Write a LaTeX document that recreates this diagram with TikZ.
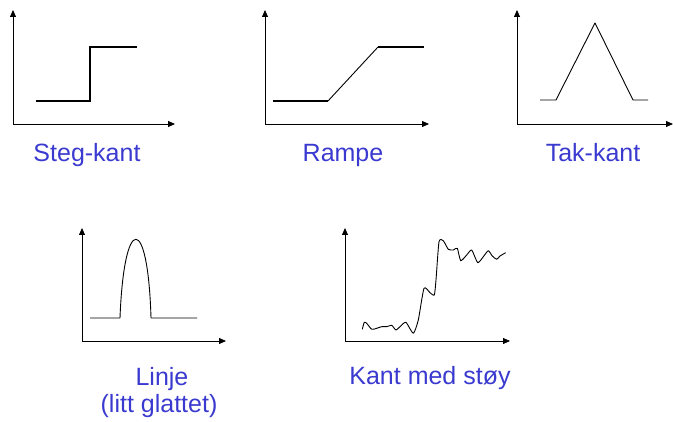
\documentclass[tikz,border=0pt]{standalone}
\usepackage{fontspec}
\setmainfont{Liberation Sans}
\usetikzlibrary{arrows.meta}
\definecolor{lblblue}{RGB}{58,58,208}

\begin{document}
\begin{tikzpicture}[x=1pt, y=-1pt,
  axis/.style={line width=0.8pt, -{Triangle[length=7pt,width=6pt]}},
  thickedge/.style={line width=2pt},
  thinedge/.style={line width=0.9pt, line join=round},
  lbl/.style={anchor=base, text=lblblue, inner sep=0pt, font=\fontsize{25}{30}\selectfont}]
  \useasboundingbox (0,0) rectangle (673,422);
  % Axes: origin x/y, top, right end
  \foreach \ox/\oy/\ty/\rx in {13/124/10/175, 265/124/10/429, 517/124/10/673,
                               82/341/228/226, 345/341/228/510}
  {
    \draw[axis] (\ox,\oy) -- (\ox,\ty);
    \draw[axis] (\ox,\oy) -- (\rx,\oy);
  }
  % Steg-kant
  \draw[thickedge] (36,101) -- (90,101) -- (90,47) -- (137,47);
  \node[lbl] (steg) at (87,162) {Steg-kant};
  % Rampe
  \draw[thickedge] (273,101) -- (328,101);
  \draw[thinedge] (328,101) -- (378,47);
  \draw[thickedge] (378,47) -- (424,47);
  \node[lbl] (rampe) at (343,162) {Rampe};
  % Tak-kant
  \draw[thinedge] (540,100) -- (556,100) -- (595,23) -- (633,100) -- (648,100);
  \node[lbl] (tak) at (593,162) {Tak-kant};
  % Linje
  \draw[thinedge] (90,318) -- (120,318) .. controls (124,213) and (148,213) .. (151,318) -- (197,318);
  \node[lbl] (linje) at (162,386) {Linje};
  \node[lbl] (glatt) at (159,413) {(litt glattet)};
  % Kant med stoy
  \draw[thinedge] plot[smooth, tension=0.35] coordinates {
    (362.3,329.3) (364.3,322.3) (366.7,323.3) (371.7,329.3) (376.7,328.3)
    (381.7,326.7) (386.7,326.7) (391.7,325.3) (396,330) (400.7,326)
    (406,322.3) (413.3,333.3) (418.3,320) (424,288.3) (430,292.7)
    (434.3,295) (436,280) (439,241.7) (443.3,240.7) (448.3,249.3)
    (453.3,250) (457.3,248.3) (460.7,260.7) (466.7,255) (471.7,250)
    (477.7,262.7) (483.3,256.7) (488.3,250.7) (492.3,256) (496.7,259.3)
    (500,256) (505.7,252.7)};
  \node[lbl] (stoy) at (430,385) {Kant med støy};
\end{tikzpicture}
\end{document}
